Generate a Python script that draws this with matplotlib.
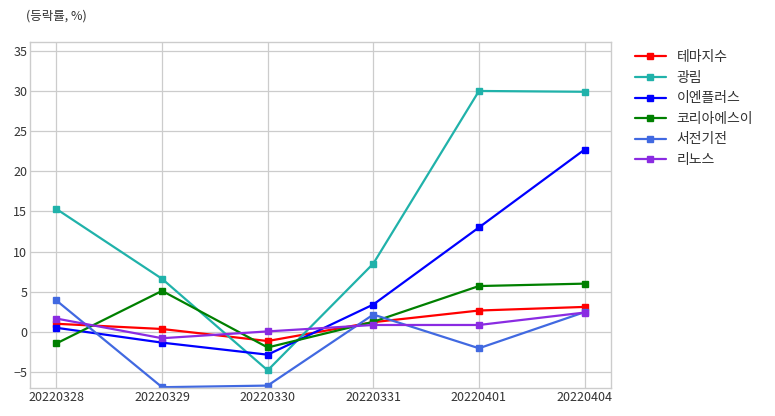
import matplotlib
matplotlib.use("Agg")
import matplotlib.pyplot as plt

dates = ["20220328", "20220329", "20220330", "20220331", "20220401", "20220404"]
names = ["테마지수", "광림", "이엔플러스", "코리아에스이", "서전기전", "리노스"]
theme = [1.0, 0.35, -1.15, 1.2, 2.65, 3.1]
gwangrim = [15.3, 6.6, -4.8, 8.5, 30.0, 29.9]
enplus = [0.5, -1.35, -2.85, 3.4, 13.0, 22.7]
koreas = [-1.45, 5.1, -1.95, 1.25, 5.7, 6.0]
seojeon = [3.9, -6.9, -6.7, 2.15, -2.05, 2.45]
rinos = [1.65, -0.8, 0.05, 0.85, 0.85, 2.4]
colors = ["red", "lightseagreen", "blue", "green", "royalblue", "blueviolet"]

plt.style.use("seaborn-v0_8-whitegrid")
plt.rcParams["font.family"] = ["Noto Sans CJK KR", "DejaVu Sans"]

fig = plt.figure(figsize=(7.75, 4.16), dpi=100)
ax = fig.add_axes([30/775, 28/416, 581/775, 346/416])

series = [theme, gwangrim, enplus, koreas, seojeon, rinos]
x = list(range(len(dates)))
for name, vals, c in zip(names, series, colors):
    ax.plot(x, vals, color=c, marker="s", markersize=4.5, linewidth=1.6, label=name)

ax.set_xticks(x)
ax.set_xticklabels(dates)
ax.set_xlim(-0.25, 5.25)
ax.set_ylim(-7, 36.1)
ax.set_yticks([-5, 0, 5, 10, 15, 20, 25, 30, 35])
ax.tick_params(axis="both", labelsize=9, colors="#333333", pad=2)
for s in ax.spines.values():
    s.set_visible(True)
    s.set_color("#cccccc")
    s.set_linewidth(1.0)
ax.grid(True, color="#cccccc", linewidth=0.9)

fig.text(26/775, 1 - 16/416, "(등락률, %)", fontsize=9, color="#333333", va="center", ha="left")

leg = ax.legend(loc="upper left", bbox_to_anchor=(1.02, 1.012), fontsize=10, frameon=False,
                handlelength=2.2, labelspacing=0.47)
for t in leg.get_texts():
    t.set_color("#333333")

fig.savefig("out.png", dpi=100)
